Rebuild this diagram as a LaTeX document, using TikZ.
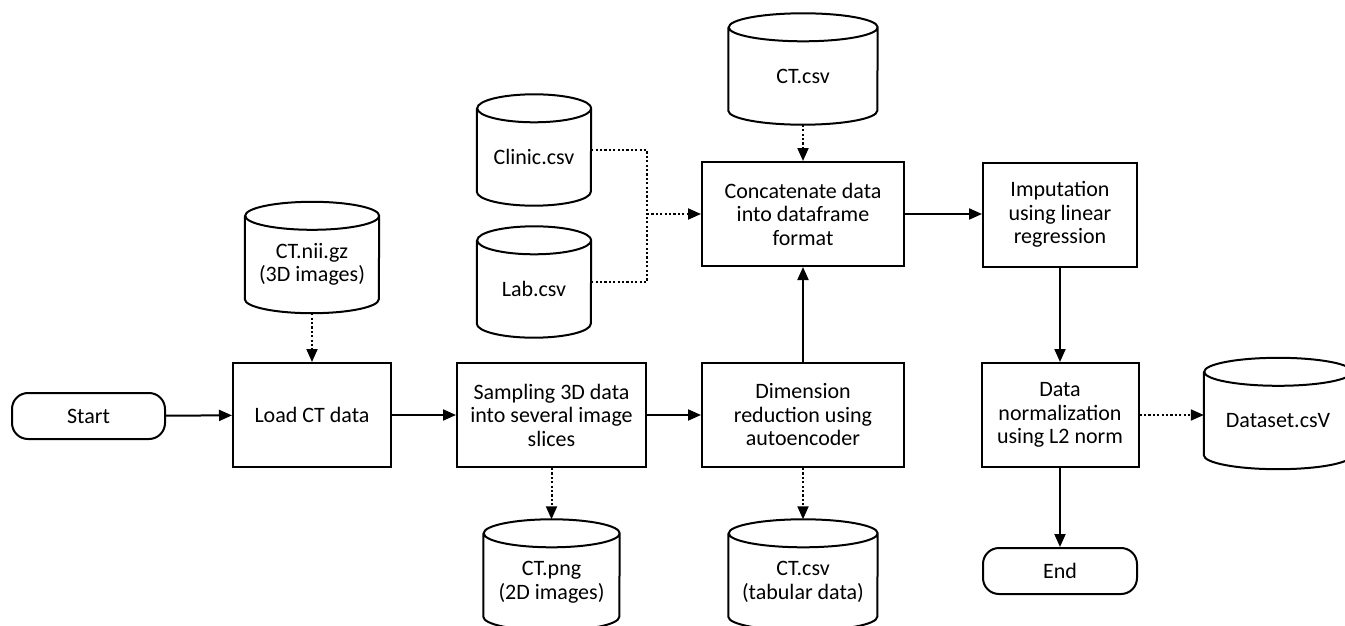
\documentclass[tikz,border=0pt]{standalone}
\usepackage{fontspec}
\setmainfont{Carlito}
\usepackage{tikz}
\usetikzlibrary{arrows.meta,calc}

\newcommand{\dbdraw}[2]{%
  \draw[dbline] (#1.north west) -- ([yshift=14pt]#1.south west)
    arc[start angle=180,end angle=360,x radius=#2,y radius=14pt]
    -- (#1.north east)
    arc[start angle=0,end angle=360,x radius=#2,y radius=14pt];}

\begin{document}
\begin{tikzpicture}[x=1pt,y=-1pt,
  txt/.style={font=\fontsize{22pt}{23.5pt}\selectfont},
  box/.style={txt,draw,line width=2pt,minimum width=#1,minimum height=104pt,inner sep=2pt,align=center},
  term/.style={txt,draw,line width=2pt,rounded corners=16pt,minimum width=#1,minimum height=46pt},
  db/.style={txt,minimum width=#1,minimum height=97pt,inner sep=0pt,align=center},
  dbline/.style={line width=2pt},
  arr/.style={line width=2pt,-{Triangle[length=13pt,width=11pt]}},
  dotline/.style={line width=2pt,dash pattern=on 2.2pt off 2.2pt},
  dotarr/.style={arr,dash pattern=on 2.2pt off 2.2pt}]
\useasboundingbox (0,0) rectangle (1345,626);

\node[term=153pt] (start) at (88.5,416) {Start};
\node[box=158pt] (load) at (312,415) {Load CT data};
\node[box=189pt] (sample) at (551.5,415) {Sampling 3D data\\into several image\\slices};
\node[box=202pt] (dimred) at (803,415) {Dimension\\reduction using\\autoencoder};
\node[box=202pt] (concat) at (803,214) {Concatenate data\\into dataframe\\format};
\node[box=154pt] (impute) at (1060,214.5) {Imputation\\using linear\\regression};
\node[box=157pt] (norm) at (1060,415) {Data\\normalization\\using L2 norm};
\node[term=154pt] (end) at (1060,571) {End};

\node[db=134pt] (ctnii) at (312,264.5) {CT.nii.gz\\(3D images)};
\node[db=114pt] (clinic) at (534,157) {Clinic.csv};
\node[db=114pt] (lab) at (534,289) {Lab.csv};
\node[db=149pt] (ctcsv) at (803,76) {CT.csv};
\node[db=136pt] (ctpng) at (551.5,582) {CT.png\\(2D images)};
\node[db=149pt] (cttab) at (803,582) {CT.csv\\(tabular data)};
\node[db=148pt] (dataset) at (1278,420.5) {Dataset.csV};
\dbdraw{ctnii}{67pt}
\dbdraw{clinic}{57pt}
\dbdraw{lab}{57pt}
\dbdraw{ctcsv}{74.5pt}
\dbdraw{ctpng}{68pt}
\dbdraw{cttab}{74.5pt}
\dbdraw{dataset}{74pt}

\draw[arr] (start) -- (load);
\draw[arr] (load) -- (sample);
\draw[arr] (sample) -- (dimred);
\draw[arr] (dimred) -- (concat);
\draw[arr] (concat.east) -- (concat.east -| impute.west);
\draw[arr] (impute) -- (norm);
\draw[arr] (norm) -- (end);

\draw[dotarr] (ctnii) -- (load);
\draw[dotarr] (sample) -- ([yshift=14pt]ctpng.north);
\draw[dotarr] (dimred) -- ([yshift=14pt]cttab.north);
\draw[dotarr] (ctcsv) -- (concat);
\coordinate (join) at (647,214);
\draw[dotline] ([yshift=7pt]clinic.east) -| (join);
\draw[dotline] ([yshift=7pt]lab.east) -| (join);
\draw[dotarr] (join) -- (concat.west);
\draw[dotarr] (norm) -- (norm.east -| dataset.west);
\end{tikzpicture}
\end{document}
